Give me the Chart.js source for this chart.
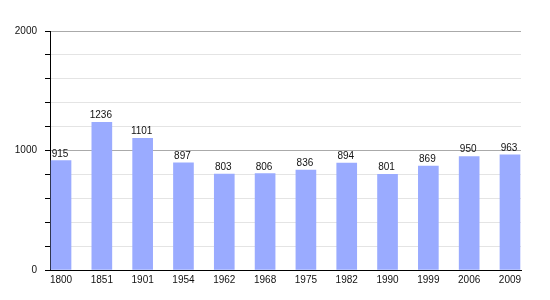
<!DOCTYPE html>
<html><head><meta charset="utf-8">
<script src="https://cdn.jsdelivr.net/npm/chart.js@4/dist/chart.umd.min.js"></script>
<style>html,body{margin:0;padding:0;background:#fff}#w{width:550px;height:300px}</style>
</head><body><div id="w"><canvas id="c"></canvas></div>
<script>
const years = ["1800","1851","1901","1954","1962","1968","1975","1982","1990","1999","2006","2009"];
const population = [915,1236,1101,897,803,806,836,894,801,869,950,963];
const yTickLabels = [0,1000,2000];

const FONT = {family:"'Liberation Sans', Arial, sans-serif", size:10};
const valueLabels = {
  id:'valueLabels',
  afterDatasetsDraw(chart){
    const ctx = chart.ctx;
    const meta = chart.getDatasetMeta(0);
    ctx.save();
    ctx.font = "10px 'Liberation Sans', Arial, sans-serif";
    ctx.fillStyle = '#111';
    ctx.textAlign = 'center';
    ctx.textBaseline = 'alphabetic';
    meta.data.forEach((bar,i)=>{
      ctx.fillText(String(population[i]), bar.x - 1, bar.y - 4);
    });
    ctx.restore();
  }
};

new Chart(document.getElementById('c'), {
  type:'bar',
  data:{datasets:[{
    data: population.map((v,i)=>({x:i,y:v})),
    backgroundColor:'#9aabff',
    barThickness:20,
    borderWidth:0
  }]},
  options:{
    responsive:true, maintainAspectRatio:false, animation:false,
    layout:{padding:{top:31,right:29,left:0,bottom:0}},
    plugins:{legend:{display:false},tooltip:{enabled:false}},
    scales:{
      x:{
        type:'linear', min:-0.27, max:11.27, offset:false,
        afterBuildTicks(s){ s.ticks = years.map((y,i)=>({value:i})); },
        afterFit(s){ s.height = 30; },
        grid:{display:true, drawOnChartArea:false, drawTicks:false},
        border:{display:true,color:'#000',width:1},
        ticks:{font:FONT,color:'#111',padding:4,maxRotation:0,autoSkip:false,
          callback:(v)=>years[v] ?? ''}
      },
      y:{
        min:0,max:2000,
        afterFit(s){ s.width = 50; },
        ticks:{stepSize:200,font:FONT,color:'#111',padding:8,
          callback:(v)=>yTickLabels.includes(v)?String(v):''},
        grid:{
          color:(c)=> (c.tick && c.tick.value % 1000 === 0) ? '#aaaaaa' : '#e4e4e4',
          tickColor:'#000', tickLength:5, lineWidth:1
        },
        border:{display:true,color:'#000',width:1}
      }
    }
  },
  plugins:[valueLabels]
});
</script></body></html>
